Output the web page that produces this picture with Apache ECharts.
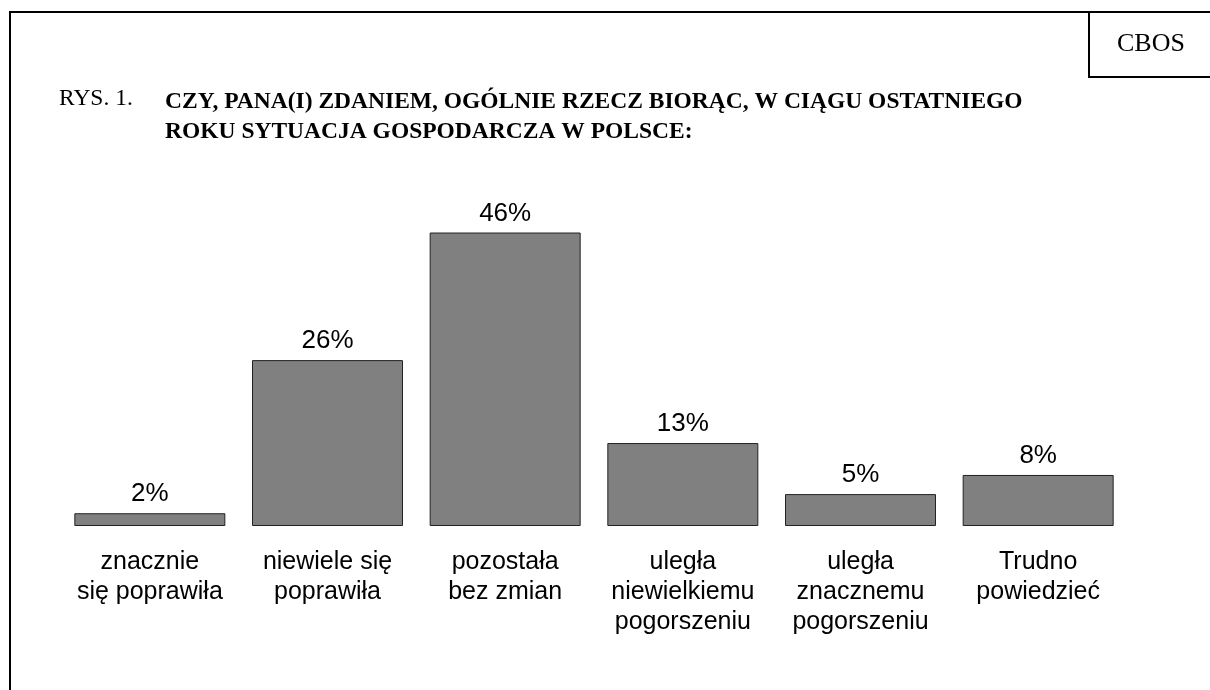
<!DOCTYPE html>
<html>
<head>
<meta charset="utf-8">
<script src="https://cdn.jsdelivr.net/npm/echarts@6/dist/echarts.min.js"></script>
<style>
html,body{margin:0;padding:0;background:#fff;}
#c{width:1210px;height:690px;}
</style>
</head>
<body>
<div id="c"></div>
<script>
const categories = [
  'znacznie\nsię poprawiła',
  'niewiele się\npoprawiła',
  'pozostała\nbez zmian',
  'uległa\nniewielkiemu\npogorszeniu',
  'uległa\nznacznemu\npogorszeniu',
  'Trudno\npowiedzieć'
];
const values = [2, 26, 46, 13, 5, 8];
const titlePrefix = 'RYS. 1.';
const titleLines = [
  'CZY, PANA(I) ZDANIEM, OGÓLNIE RZECZ BIORĄC, W CIĄGU OSTATNIEGO',
  'ROKU SYTUACJA GOSPODARCZA W POLSCE:'
];
const sourceLabel = 'CBOS';

const chart = echarts.init(document.getElementById('c'));
const serif = '"Liberation Serif", "Times New Roman", serif';
const sans = '"Liberation Sans", Arial, sans-serif';

chart.setOption({
  animation: false,
  backgroundColor: '#fff',
  grid: { left: 61, right: 83, top: 207, bottom: 164, containLabel: false },
  xAxis: {
    type: 'category',
    data: categories,
    axisLine: { show: false },
    axisTick: { show: false },
    axisLabel: {
      interval: 0,
      margin: 21,
      fontFamily: sans,
      fontSize: 25,
      lineHeight: 30,
      color: '#000'
    }
  },
  yAxis: {
    type: 'value',
    min: 0,
    max: 50,
    show: false
  },
  series: [{
    type: 'bar',
    data: values,
    barWidth: 151,
    itemStyle: { color: '#808080', borderColor: '#222', borderWidth: 1 },
    label: {
      show: true,
      position: 'top',
      distance: 6,
      formatter: '{c}%',
      fontFamily: sans,
      fontSize: 26,
      color: '#000'
    }
  }],
  graphic: [
    { type: 'polyline', shape: { points: [[10, 700], [10, 12], [1220, 12]] },
      style: { stroke: '#000', lineWidth: 2, fill: null } },
    { type: 'polyline', shape: { points: [[1089, 12], [1089, 77], [1220, 77]] },
      style: { stroke: '#000', lineWidth: 2, fill: null } },
    { type: 'text', left: 1117, top: 31,
      style: { text: sourceLabel, font: '26px ' + serif, fill: '#000' } },
    { type: 'text', left: 59, top: 87,
      style: { text: titlePrefix, font: '23.5px ' + serif, fill: '#000' } },
    { type: 'text', left: 165, top: 87,
      style: { text: titleLines.join('\n'), font: 'bold 23.5px ' + serif, lineHeight: 30, fill: '#000' } }
  ]
});
</script>
</body>
</html>
